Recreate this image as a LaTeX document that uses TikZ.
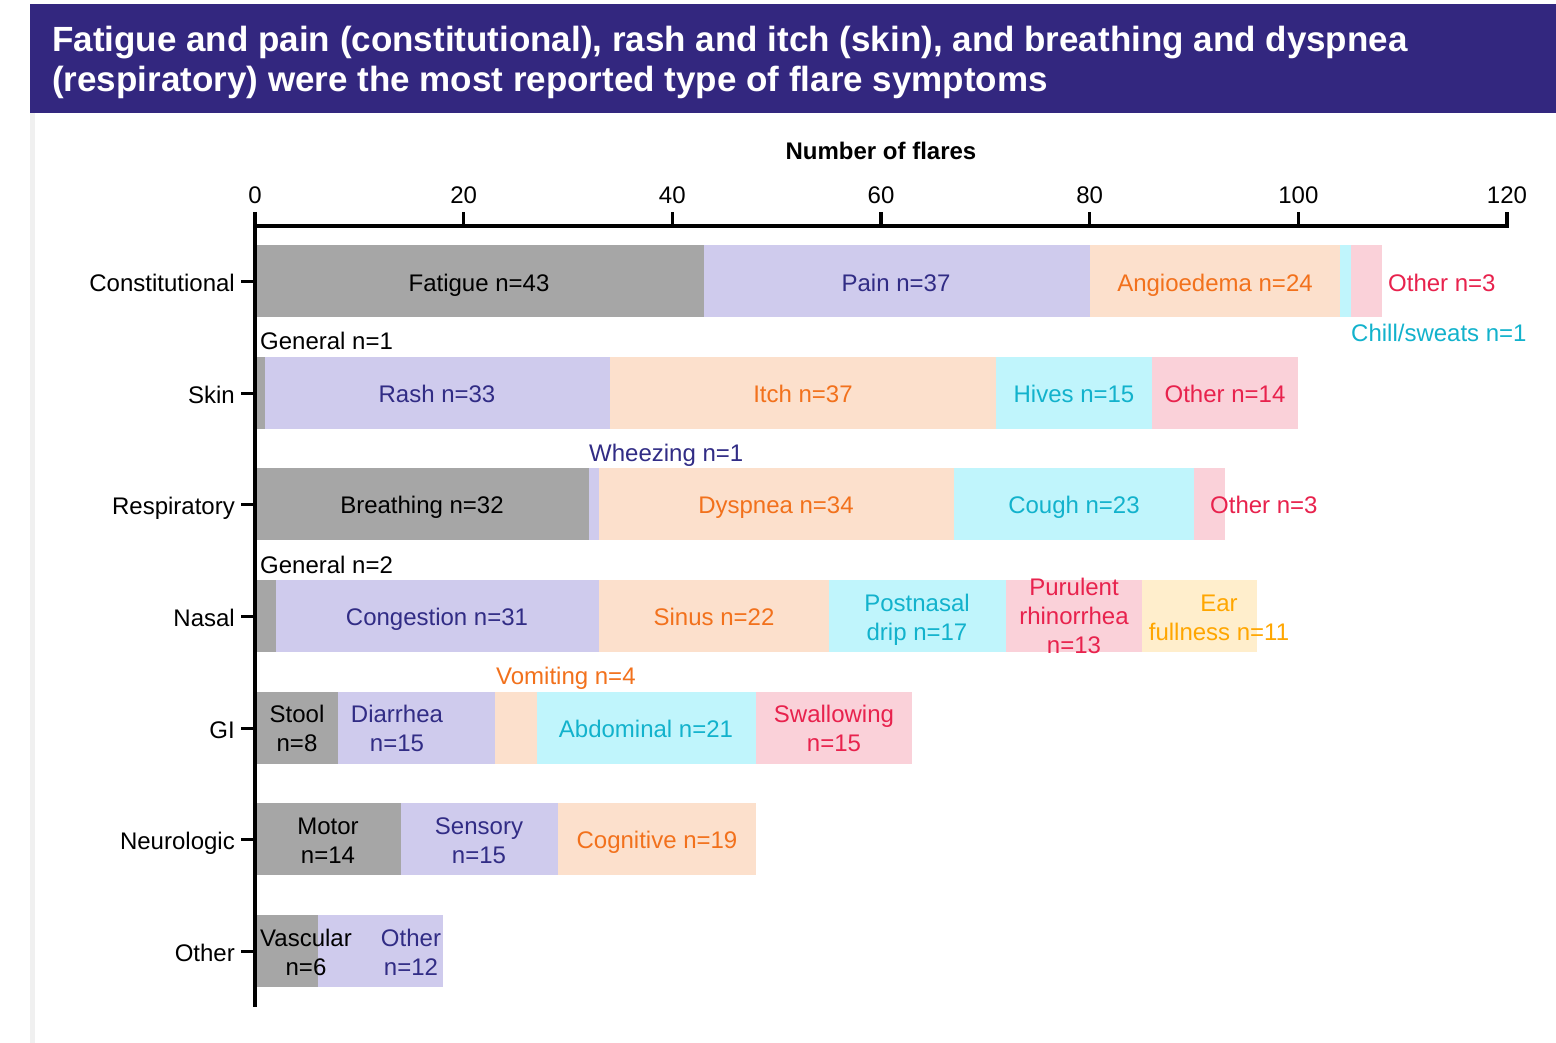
\documentclass[tikz,border=0pt]{standalone}
\usepackage{fontspec}
\setmainfont{Liberation Sans}
\definecolor{titlebg}{HTML}{33277F}
\definecolor{stripgray}{HTML}{F0F0F0}
\definecolor{gbar}{HTML}{A6A6A6}
\definecolor{lav}{HTML}{CFCBED}
\definecolor{peach}{HTML}{FCE0CC}
\definecolor{cyanb}{HTML}{C0F5FC}
\definecolor{pinkb}{HTML}{FAD1D9}
\definecolor{yelb}{HTML}{FFEECC}
\definecolor{tpurple}{HTML}{312C85}
\definecolor{torange}{HTML}{F2711C}
\definecolor{tred}{HTML}{E8224D}
\definecolor{tcyan}{HTML}{12B2CC}
\definecolor{tyellow}{HTML}{FFA600}
\newcommand\segm[4]{\fill[#4] ({255+#1*10.4333},{#3-36}) rectangle ({255+#2*10.4333},{#3+36});}
\begin{document}
\begin{tikzpicture}[x=1pt,y=-1pt,
  lbl/.style={inner sep=0pt, font=\fontsize{24}{29}\selectfont, anchor=base},
  lblw/.style={lbl, anchor=base west},
  ml/.style={inner sep=0pt, font=\fontsize{24}{29}\selectfont, align=center, anchor=center},
  ttl/.style={inner sep=0pt, font=\fontsize{35}{40}\bfseries\selectfont, text=white, anchor=base west},
  axisln/.style={line width=3.4pt}]
\useasboundingbox (0,0) rectangle (1556,1043);
\fill[white] (0,0) rectangle (1556,1043);
\fill[titlebg] (30,4) rectangle (1556,113);
\fill[stripgray] (30,113) rectangle (35,1043);
\node[ttl] (t1) at (52,52) {Fatigue and pain (constitutional), rash and itch (skin), and breathing and dyspnea};
\node[ttl] (t2) at (52,92) {(respiratory) were the most reported type of flare symptoms};
% bars
% Constitutional
\segm{0}{43}{281}{gbar}\segm{43}{80}{281}{lav}\segm{80}{104}{281}{peach}\segm{104}{105}{281}{cyanb}\segm{105}{108}{281}{pinkb}
% Skin
\segm{0}{1}{393}{gbar}\segm{1}{34}{393}{lav}\segm{34}{71}{393}{peach}\segm{71}{86}{393}{cyanb}\segm{86}{100}{393}{pinkb}
% Respiratory
\segm{0}{32}{504}{gbar}\segm{32}{33}{504}{lav}\segm{33}{67}{504}{peach}\segm{67}{90}{504}{cyanb}\segm{90}{93}{504}{pinkb}
% Nasal
\segm{0}{2}{616}{gbar}\segm{2}{33}{616}{lav}\segm{33}{55}{616}{peach}\segm{55}{72}{616}{cyanb}\segm{72}{85}{616}{pinkb}\segm{85}{96}{616}{yelb}
% GI
\segm{0}{8}{728}{gbar}\segm{8}{23}{728}{lav}\segm{23}{27}{728}{peach}\segm{27}{48}{728}{cyanb}\segm{48}{63}{728}{pinkb}
% Neurologic
\segm{0}{14}{839}{gbar}\segm{14}{29}{839}{lav}\segm{29}{48}{839}{peach}
% Other
\segm{0}{6}{951}{gbar}\segm{6}{18}{951}{lav}
% axes
\node[inner sep=0pt, font=\fontsize{24}{29}\bfseries\selectfont, anchor=base] (xtitle) at (881,160) {Number of flares};
\draw[axisln] (253.3,226) -- (1508.7,226);
\foreach \v in {0,20,...,120} {
  \draw[axisln] ({255+\v*10.4333},227) -- ({255+\v*10.4333},212);
  \node[lbl] (tk\v) at ({255+\v*10.4333},204) {\v};
}
\draw[axisln] (255,212) -- (255,1007);
\foreach \yc/\nm/\cat in {281/c1/Constitutional,393/c2/Skin,504/c3/Respiratory,616/c4/Nasal,728/c5/GI,839/c6/Neurologic,951/c7/Other} {
  \draw[line width=3pt] (241,\yc) -- (255,\yc);
  \node[lbl, anchor=base east] (\nm) at (235,{\yc+10}) {\cat};
}
% labels Constitutional
\node[lbl] (fat) at (479,291) {Fatigue n=43};
\node[lbl, text=tpurple] (pain) at (896,291) {Pain n=37};
\node[lbl, text=torange] (ang) at (1215,291) {Angioedema n=24};
\node[lblw, text=tred] (oth1) at (1388,291) {Other n=3};
\node[lblw, text=tcyan] (chill) at (1351,341) {Chill/sweats n=1};
% Skin
\node[lblw] (gen1) at (260,349) {General n=1};
\node[lbl, text=tpurple] (rash) at (437,402) {Rash n=33};
\node[lbl, text=torange] (itch) at (803,402) {Itch n=37};
\node[lbl, text=tcyan] (hives) at (1074,402) {Hives n=15};
\node[lbl, text=tred] (oth2) at (1225,402) {Other n=14};
% Respiratory
\node[lblw, text=tpurple] (whz) at (589,461) {Wheezing n=1};
\node[lbl] (brth) at (422,513) {Breathing n=32};
\node[lbl, text=torange] (dysp) at (776,513) {Dyspnea n=34};
\node[lbl, text=tcyan] (cough) at (1074,513) {Cough n=23};
\node[lblw, text=tred] (oth3) at (1210,513) {Other n=3};
% Nasal
\node[lblw] (gen2) at (260,573) {General n=2};
\node[lbl, text=tpurple] (cong) at (437,625) {Congestion n=31};
\node[lbl, text=torange] (sinus) at (714,625) {Sinus n=22};
\node[ml, text=tcyan] (pnd) at (917,620) {Postnasal\\drip n=17};
\node[ml, text=tred] (pur) at (1074,616) {Purulent\\rhinorrhea\\n=13};
\node[ml, text=tyellow] (ear) at (1219,618) {Ear\\fullness n=11};
% GI
\node[lblw, text=torange] (vom) at (496,684) {Vomiting n=4};
\node[ml] (stool) at (297,728.5) {Stool\\n=8};
\node[ml, text=tpurple] (diar) at (397,728) {Diarrhea\\n=15};
\node[lbl, text=tcyan] (abd) at (646,737) {Abdominal n=21};
\node[ml, text=tred] (swal) at (834,728.5) {Swallowing\\n=15};
% Neurologic
\node[ml] (motor) at (328,840.5) {Motor\\n=14};
\node[ml, text=tpurple] (sens) at (479,840.5) {Sensory\\n=15};
\node[lbl, text=torange] (cogn) at (657,848) {Cognitive n=19};
% Other
\node[ml] (vasc) at (306,952) {Vascular\\n=6};
\node[ml, text=tpurple] (oth7) at (411,952) {Other\\n=12};
\end{tikzpicture}
\end{document}
